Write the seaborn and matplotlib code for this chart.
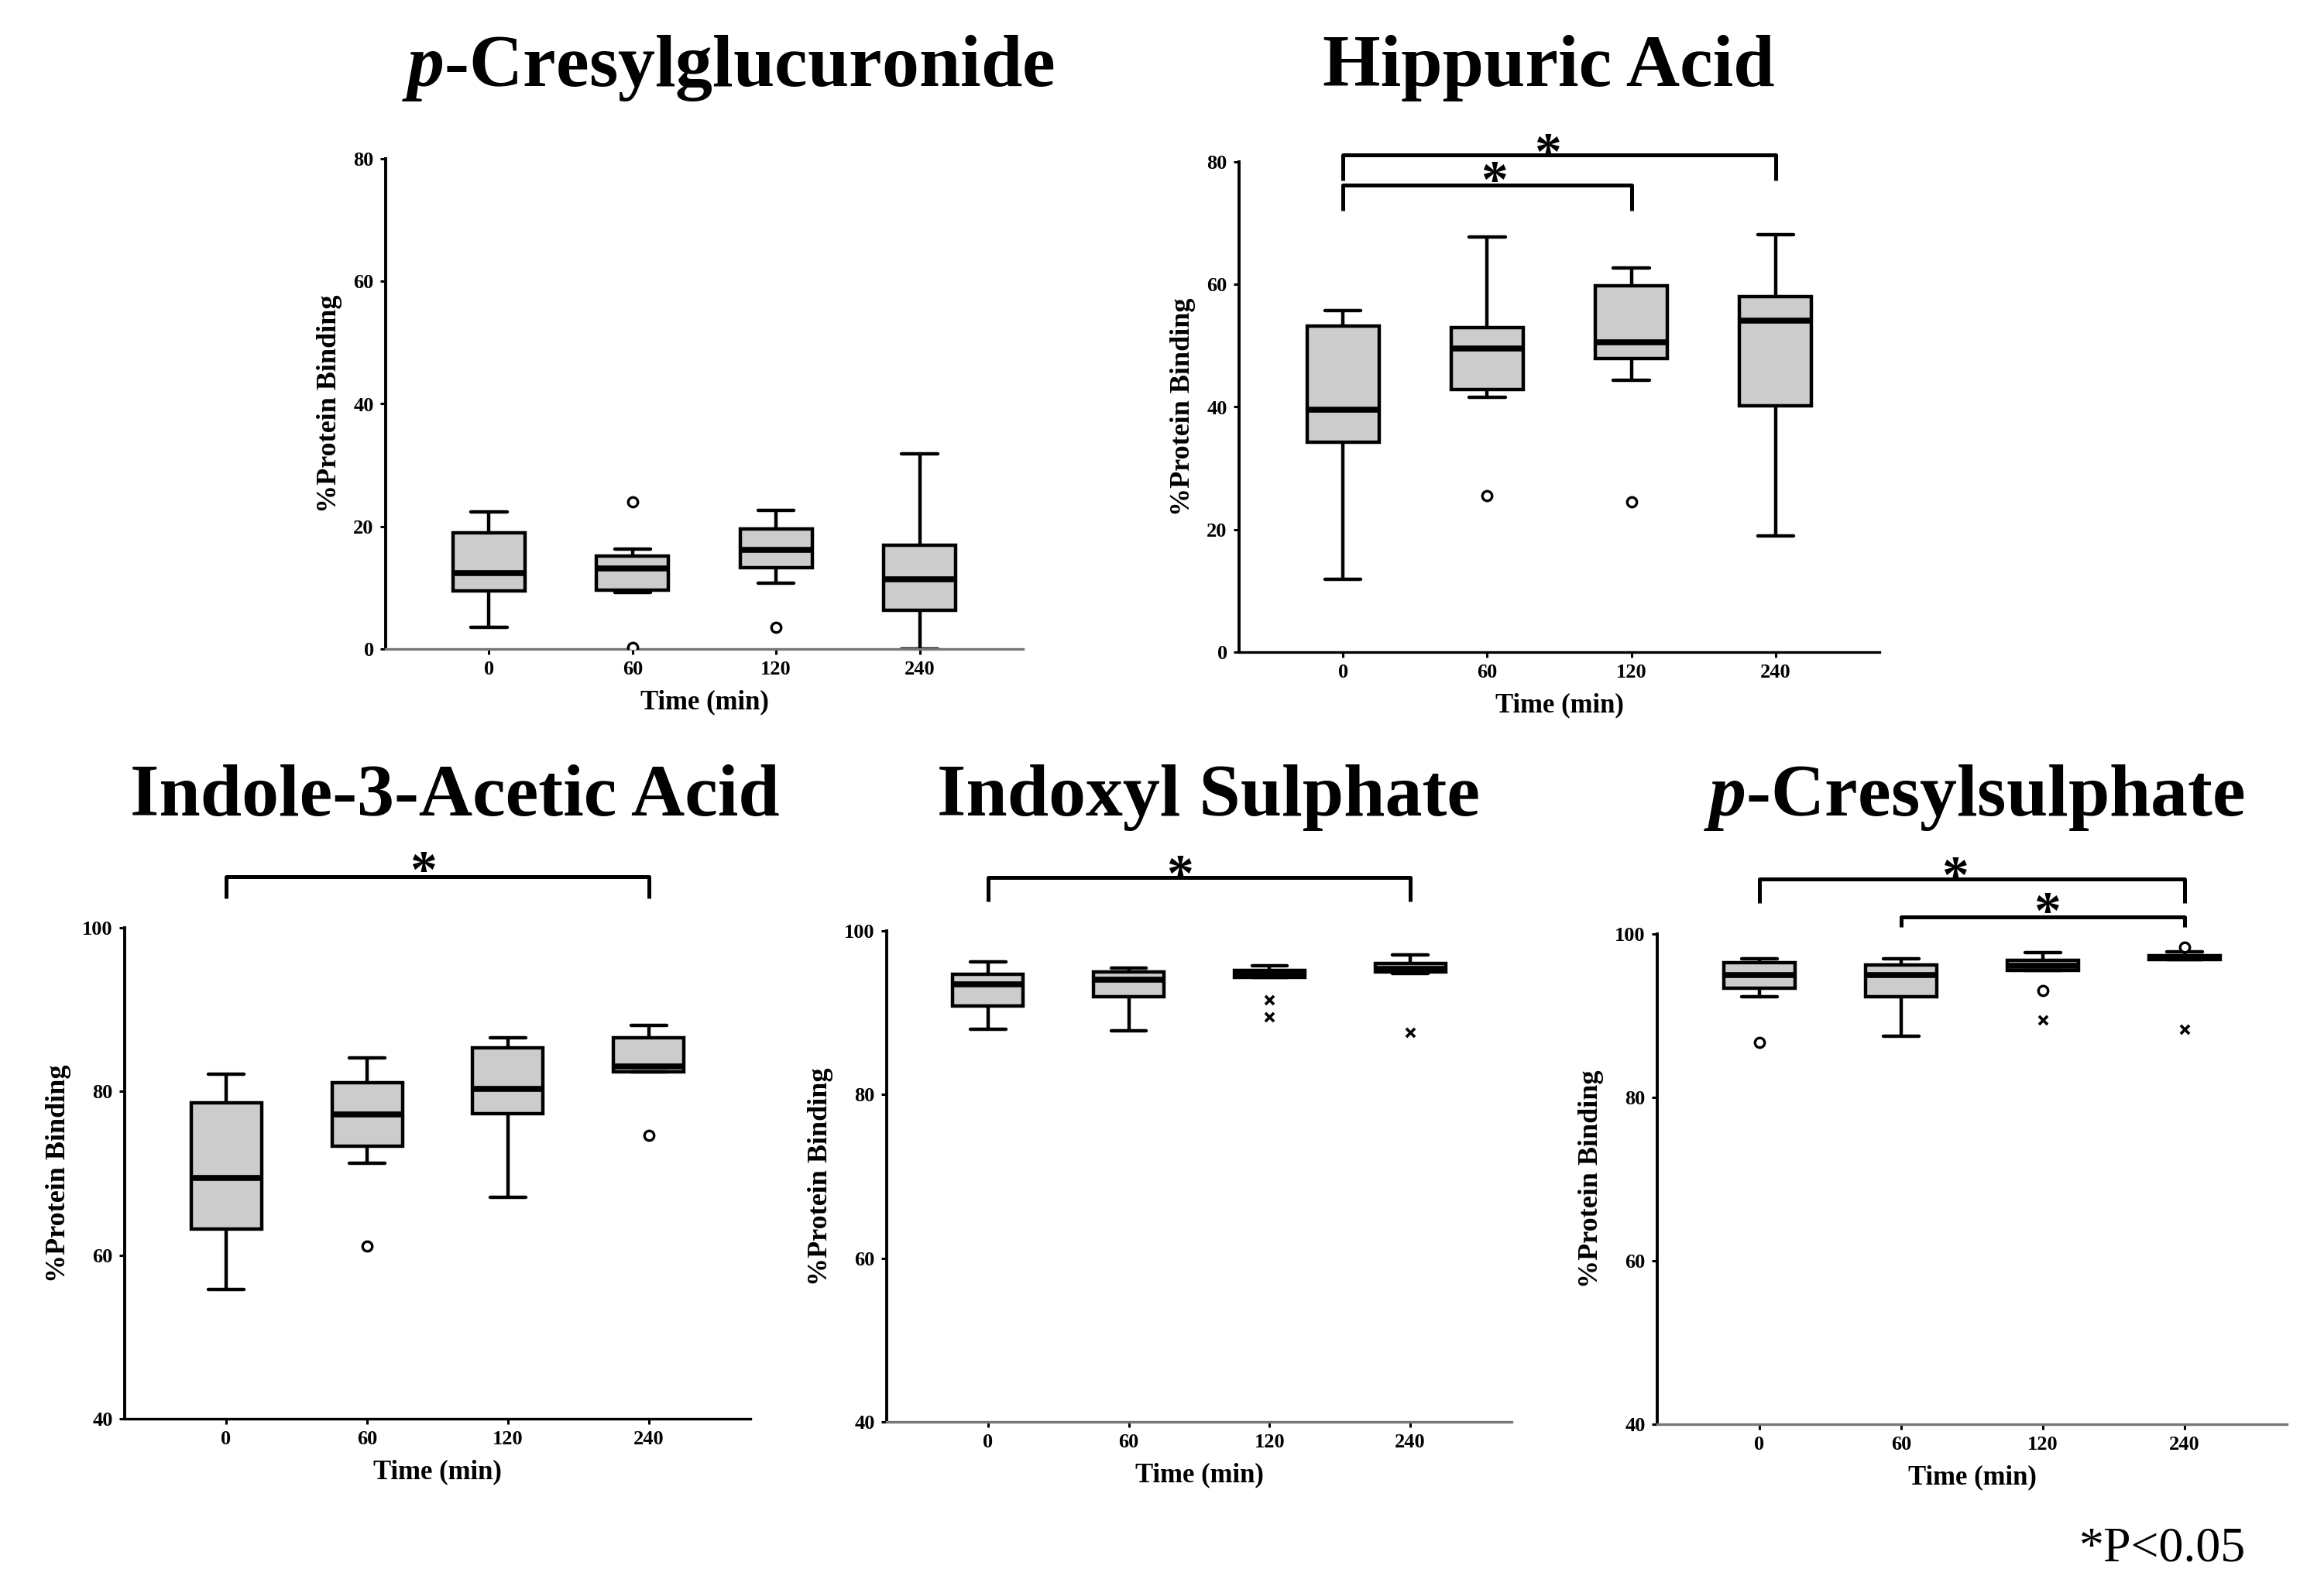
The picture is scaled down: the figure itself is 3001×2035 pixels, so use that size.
import pandas as pd
import seaborn as sns
import matplotlib.pyplot as plt

times = ["0", "60", "120", "240"]

# p-Cresylglucuronide
pcg_low = [3.6, 9.2, 10.7, 0.0]
pcg_q1 = [9.5, 9.6, 13.3, 6.3]
pcg_med = [12.4, 13.2, 16.2, 11.4]
pcg_q3 = [18.9, 15.2, 19.6, 16.9]
pcg_high = [22.4, 16.3, 22.6, 31.8]
pcg_out_t = ["60", "60", "120"]
pcg_out_v = [24.0, 0.3, 3.6]

# Hippuric acid
hip_low = [11.9, 41.6, 44.3, 19.0]
hip_q1 = [34.2, 42.9, 47.9, 40.2]
hip_med = [39.6, 49.5, 50.5, 54.1]
hip_q3 = [53.2, 53.0, 59.8, 58.0]
hip_high = [55.7, 67.7, 62.7, 68.1]
hip_out_t = ["60", "120"]
hip_out_v = [25.5, 24.5]

# Indole-3-acetic acid
iaa_low = [55.8, 71.2, 67.1, 82.4]
iaa_q1 = [63.2, 73.3, 77.3, 82.4]
iaa_med = [69.4, 77.2, 80.3, 83.1]
iaa_q3 = [78.6, 81.1, 85.3, 86.6]
iaa_high = [82.1, 84.1, 86.6, 88.1]
iaa_out_t = ["60", "240"]
iaa_out_v = [61.1, 74.6]

# Indoxyl sulphate
ins_low = [88.0, 87.8, 94.3, 94.8]
ins_q1 = [90.8, 92.0, 94.3, 95.0]
ins_med = [93.5, 94.0, 94.7, 95.4]
ins_q3 = [94.7, 95.0, 95.2, 96.0]
ins_high = [96.2, 95.5, 95.7, 97.1]
ins_ext_t = ["120", "120", "240"]
ins_ext_v = [91.6, 89.5, 87.6]

# p-Cresylsulphate
pcs_low = [92.3, 87.5, 95.5, 96.9]
pcs_q1 = [93.4, 92.3, 95.5, 96.9]
pcs_med = [95.0, 95.0, 96.1, 97.1]
pcs_q3 = [96.5, 96.2, 96.8, 97.3]
pcs_high = [97.0, 97.0, 97.7, 97.8]
pcs_out_t = ["0", "120", "240"]
pcs_out_v = [86.7, 93.1, 98.4]
pcs_ext_t = ["120", "240"]
pcs_ext_v = [89.5, 88.3]

sns.set_style("ticks")
plt.rcParams["font.family"] = ["Liberation Serif", "DejaVu Serif"]
plt.rcParams["font.weight"] = "bold"
plt.rcParams["text.color"] = "black"
plt.rcParams["axes.labelcolor"] = "black"
plt.rcParams["xtick.color"] = "black"
plt.rcParams["ytick.color"] = "black"
plt.rcParams["mathtext.fontset"] = "custom"
plt.rcParams["mathtext.it"] = "Liberation Serif:italic:bold"
plt.rcParams["mathtext.rm"] = "Liberation Serif:bold"

W, H = 3001, 2035
fig = plt.figure(figsize=(W / 100, H / 100), dpi=100)


def make_ax(left, right, top, bottom):
    return fig.add_axes([left / W, 1 - bottom / H, (right - left) / W, (bottom - top) / H])


def boxes(ax, low, q1, med, q3, high):
    rows = []
    for t, vals in zip(times, zip(low, q1, med, q3, high)):
        for v in vals:
            rows.append((t, v))
    df = pd.DataFrame(rows, columns=["time", "binding"])
    sns.boxplot(data=df, x="time", y="binding", order=times, whis=(0, 100),
                width=0.5, color="#cccccc", saturation=1, linecolor="black",
                linewidth=3.2, showfliers=False,
                medianprops={"linewidth": 5.5}, ax=ax)


def points(ax, t, v, marker):
    pts = pd.DataFrame({"time": t, "binding": v})
    if marker == "o":
        sns.stripplot(data=pts, x="time", y="binding", order=times, jitter=False,
                      marker="o", color="white", edgecolor="black", linewidth=2.4,
                      size=9, ax=ax, zorder=4)
    else:
        sns.stripplot(data=pts, x="time", y="binding", order=times, jitter=False,
                      marker="x", color="black", linewidth=2.6, size=8, ax=ax, zorder=4)


def bracket(ax, x0, x1, top, leg, star_x, star_y):
    ax.plot([x0, x0, x1, x1], [leg, top, top, leg], color="black", lw=3.6,
            clip_on=False, solid_capstyle="butt")
    ax.annotate("*", xy=(star_x, star_y), xytext=(0, -24), textcoords="offset points",
                ha="center", va="baseline", fontsize=50, fontweight="bold",
                annotation_clip=False)


def style(ax, ylim, yticks, bottom_color):
    ax.set_xlim(-0.72, 3.72)
    ax.set_ylim(*ylim)
    ax.set_yticks(yticks)
    sns.despine(ax=ax)
    ax.spines["left"].set_linewidth(2.8)
    ax.spines["left"].set_color("black")
    ax.spines["bottom"].set_linewidth(2.4)
    ax.spines["bottom"].set_color(bottom_color)
    ax.tick_params(axis="both", direction="out", length=5, width=2.2,
                   labelsize=19, pad=6, color="black")
    ax.set_xlabel("Time (min)", fontsize=25, fontweight="bold", labelpad=10)
    ax.set_ylabel("%Protein Binding", fontsize=26, fontweight="bold", labelpad=10)


# p-Cresylglucuronide
ax1 = make_ax(498, 1321, 205, 838)
boxes(ax1, pcg_low, pcg_q1, pcg_med, pcg_q3, pcg_high)
points(ax1, pcg_out_t, pcg_out_v, "o")
style(ax1, (0, 80), [0, 20, 40, 60, 80], "#777777")

# Hippuric acid
ax2 = make_ax(1600, 2427, 209, 842)
boxes(ax2, hip_low, hip_q1, hip_med, hip_q3, hip_high)
points(ax2, hip_out_t, hip_out_v, "o")
style(ax2, (0, 80), [0, 20, 40, 60, 80], "black")
bracket(ax2, 0, 3, 81.2, 77.0, 1.42, 83.0)
bracket(ax2, 0, 2, 76.2, 72.1, 1.05, 78.4)

# Indole-3-acetic acid
ax3 = make_ax(161, 969, 1198, 1832)
boxes(ax3, iaa_low, iaa_q1, iaa_med, iaa_q3, iaa_high)
points(ax3, iaa_out_t, iaa_out_v, "o")
style(ax3, (40, 100), [40, 60, 80, 100], "black")
bracket(ax3, 0, 3, 106.2, 103.6, 1.4, 108.1)

# Indoxyl sulphate
ax4 = make_ax(1145, 1952, 1202, 1836)
boxes(ax4, ins_low, ins_q1, ins_med, ins_q3, ins_high)
points(ax4, ins_ext_t, ins_ext_v, "x")
style(ax4, (40, 100), [40, 60, 80, 100], "#777777")
bracket(ax4, 0, 3, 106.5, 103.6, 1.36, 108.0)

# p-Cresylsulphate
ax5 = make_ax(2140, 2953, 1206, 1839)
boxes(ax5, pcs_low, pcs_q1, pcs_med, pcs_q3, pcs_high)
points(ax5, pcs_out_t, pcs_out_v, "o")
points(ax5, pcs_ext_t, pcs_ext_v, "x")
style(ax5, (40, 100), [40, 60, 80, 100], "#777777")
bracket(ax5, 0, 3, 106.7, 103.8, 1.38, 108.2)
bracket(ax5, 1, 3, 102.1, 100.9, 2.03, 103.8)

title_kw = dict(ha="center", va="baseline", fontsize=69, fontweight="bold")
fig.text(940 / W, 1 - 111 / H, r"$\mathit{p}$-Cresylglucuronide", **title_kw)
fig.text(2000 / W, 1 - 111 / H, "Hippuric Acid", **title_kw)
fig.text(587 / W, 1 - 1053 / H, "Indole-3-Acetic Acid", **title_kw)
fig.text(1561 / W, 1 - 1053 / H, "Indoxyl Sulphate", **title_kw)
fig.text(2549 / W, 1 - 1053 / H, r"$\mathit{p}$-Cresylsulphate", **title_kw)

fig.text(2792 / W, 1 - 2015 / H, "*P<0.05", ha="center", va="baseline",
         fontsize=46, fontweight="normal")

fig.savefig("out.png", dpi=100, facecolor="white")
